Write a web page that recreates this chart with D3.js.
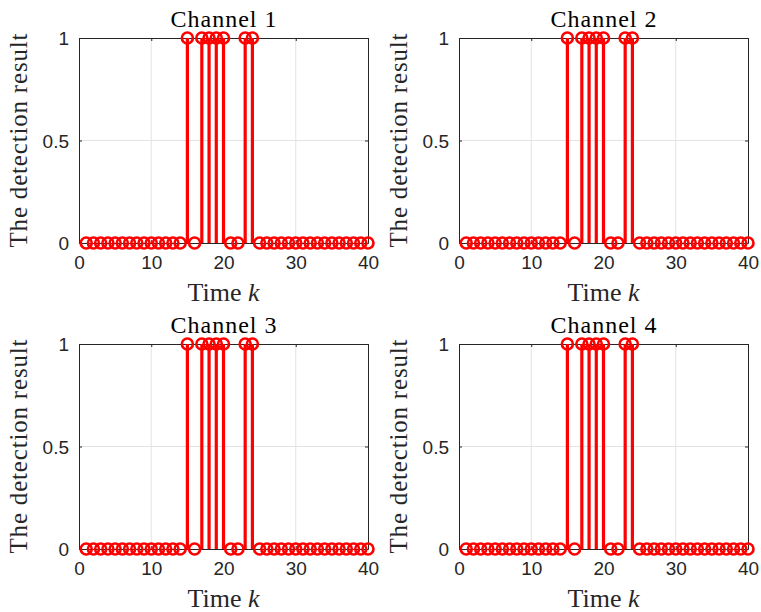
<!DOCTYPE html>
<html lang="en">
<head>
<meta charset="utf-8">
<title>Detection result per channel</title>
<script src="https://cdn.jsdelivr.net/npm/d3@7"></script>
<style>
  body { margin: 0; background: #fff; }
  .tick text { font-family: Arial, "Liberation Sans", sans-serif; }
  .serif { font-family: "Liberation Serif", "DejaVu Serif", serif; }
</style>
</head>
<body>
<script>
// data: k = 1..40, detection result 0/1
var times = d3.range(1, 41);
var channel1 = [0,0,0,0,0,0,0,0,0,0,0,0,0,0,1,0,1,1,1,1,0,0,1,1,0,0,0,0,0,0,0,0,0,0,0,0,0,0,0,0];
var channel2 = [0,0,0,0,0,0,0,0,0,0,0,0,0,0,1,0,1,1,1,1,0,0,1,1,0,0,0,0,0,0,0,0,0,0,0,0,0,0,0,0];
var channel3 = [0,0,0,0,0,0,0,0,0,0,0,0,0,0,1,0,1,1,1,1,0,0,1,1,0,0,0,0,0,0,0,0,0,0,0,0,0,0,0,0];
var channel4 = [0,0,0,0,0,0,0,0,0,0,0,0,0,0,1,0,1,1,1,1,0,0,1,1,0,0,0,0,0,0,0,0,0,0,0,0,0,0,0,0];
var titles = ["Channel 1", "Channel 2", "Channel 3", "Channel 4"];
var xTicks = [0, 10, 20, 30, 40];
var yTicks = [0, 0.5, 1];
var yTickLabels = ["0", "0.5", "1"];

var W = 761, H = 612;
var svg = d3.select("body").append("svg")
    .attr("width", W)
    .attr("height", H);

// panel positions (axes box in pixels)
var panels = [
    { left: 79, top: 38, data: channel1 },
    { left: 459, top: 38, data: channel2 },
    { left: 79, top: 344, data: channel3 },
    { left: 459, top: 344, data: channel4 }
];
var pw = 289, ph = 205;
var axisColor = "#262626";

panels.forEach(function(p, i) {
    var g = svg.append("g").attr("transform", "translate(" + p.left + "," + p.top + ")");

    var x = d3.scaleLinear().domain([0, 40]).range([0, pw]);
    var y = d3.scaleLinear().domain([0, 1]).range([ph, 0]);

    // grid
    g.append("g").selectAll("line")
        .data(xTicks.slice(1, -1))
        .enter().append("line")
        .attr("x1", function(d) { return x(d); })
        .attr("x2", function(d) { return x(d); })
        .attr("y1", 0).attr("y2", ph)
        .attr("stroke", "#e3e3e3").attr("stroke-width", 1);
    g.append("g").selectAll("line")
        .data(yTicks.slice(1, -1))
        .enter().append("line")
        .attr("y1", function(d) { return y(d); })
        .attr("y2", function(d) { return y(d); })
        .attr("x1", 0).attr("x2", pw)
        .attr("stroke", "#e3e3e3").attr("stroke-width", 1);

    // axes, ticks inward like matlab
    var xAxis = d3.axisBottom(x).tickValues(xTicks).tickSizeInner(-3).tickSizeOuter(0).tickPadding(10);
    var yAxis = d3.axisLeft(y).tickValues(yTicks).tickSizeInner(-3).tickSizeOuter(0).tickPadding(10)
        .tickFormat(function(d, j) { return yTickLabels[j]; });

    var gx = g.append("g").attr("transform", "translate(0," + ph + ")").call(xAxis);
    var gy = g.append("g").call(yAxis);
    var gxt = g.append("g").call(d3.axisTop(x).tickValues(xTicks).tickSizeInner(-3).tickSizeOuter(0).tickFormat(""));
    var gyr = g.append("g").attr("transform", "translate(" + pw + ",0)")
        .call(d3.axisRight(y).tickValues(yTicks).tickSizeInner(-3).tickSizeOuter(0).tickFormat(""));

    [gx, gy, gxt, gyr].forEach(function(a) {
        a.select(".domain").attr("stroke", axisColor).attr("stroke-width", 1);
        a.selectAll(".tick line").attr("stroke", axisColor);
        a.selectAll(".tick text").attr("fill", axisColor).style("font-size", "19px");
    });
    gx.selectAll(".tick text").attr("dy", "0.82em");
    gy.selectAll(".tick text").attr("dy", "0.36em");

    var pts = times.map(function(t, j) { return { k: t, v: p.data[j] }; });

    // stems
    g.append("g").selectAll("line")
        .data(pts.filter(function(d) { return d.v !== 0; }))
        .enter().append("line")
        .attr("x1", function(d) { return x(d.k); })
        .attr("x2", function(d) { return x(d.k); })
        .attr("y1", y(0))
        .attr("y2", function(d) { return y(d.v); })
        .attr("stroke", "#ff0000").attr("stroke-width", 3.2);

    // markers
    g.append("g").selectAll("circle")
        .data(pts)
        .enter().append("circle")
        .attr("cx", function(d) { return x(d.k); })
        .attr("cy", function(d) { return y(d.v); })
        .attr("r", 5.5)
        .attr("fill", "none")
        .attr("stroke", "#ff0000").attr("stroke-width", 2.6);

    // title
    g.append("text")
        .attr("class", "serif")
        .attr("x", pw / 2).attr("y", -11)
        .attr("text-anchor", "middle")
        .attr("font-size", 24)
        .attr("textLength", 106).attr("lengthAdjust", "spacing")
        .attr("fill", "#000")
        .text(titles[i]);

    // x label
    var xl = g.append("text")
        .attr("class", "serif")
        .attr("x", pw / 2).attr("y", ph + 58)
        .attr("text-anchor", "middle")
        .attr("font-size", 26)
        .attr("fill", "#262626");
    xl.append("tspan").text("Time ");
    xl.append("tspan").attr("font-style", "italic").text("k");

    // y label
    g.append("text")
        .attr("class", "serif")
        .attr("transform", "translate(-52," + (ph / 2) + ") rotate(-90)")
        .attr("text-anchor", "middle")
        .attr("font-size", 25)
        .attr("textLength", 214).attr("lengthAdjust", "spacing")
        .attr("fill", "#262626")
        .text("The detection result");
});
</script>
</body>
</html>
